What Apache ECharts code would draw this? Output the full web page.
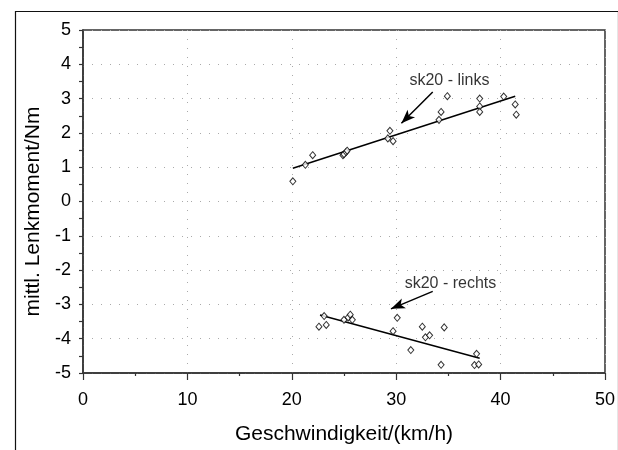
<!DOCTYPE html>
<html><head><meta charset="utf-8">
<script src="https://cdn.jsdelivr.net/npm/echarts@6/dist/echarts.min.js"></script>
<style>html,body{margin:0;padding:0;background:#fff}#c{width:618px;height:450px}</style>
</head><body><div id="c"></div>
<script>
// upper cluster: sk20 - links
const linksX = [20.1, 21.3, 22.0, 24.9, 25.0, 25.2, 25.3, 29.2, 29.4, 29.7, 34.1, 34.3, 34.9, 38.0, 38.0, 38.0, 40.3, 41.4, 41.5];
const linksY = [0.59, 1.07, 1.35, 1.35, 1.38, 1.44, 1.48, 1.84, 2.06, 1.76, 2.38, 2.61, 3.07, 3.00, 2.77, 2.61, 3.06, 2.83, 2.53];
// lower cluster: sk20 - rechts
const rechtsX = [22.6, 23.1, 23.3, 25.0, 25.4, 25.6, 25.8, 29.7, 30.1, 31.4, 32.5, 32.8, 33.2, 34.3, 34.6, 37.5, 37.7, 37.9];
const rechtsY = [-3.65, -3.34, -3.60, -3.45, -3.38, -3.30, -3.45, -3.78, -3.39, -4.33, -3.65, -3.96, -3.90, -4.76, -3.67, -4.77, -4.44, -4.75];
// trend line end points
const linksTrendX = [20.1, 41.4];
const linksTrendY = [0.97, 3.07];
const rechtsTrendX = [22.7, 38.0];
const rechtsTrendY = [-3.31, -4.57];
// annotations
const annoText = ['sk20 - links', 'sk20 - rechts'];
const annoTextPos = [[35.1, 3.52], [35.2, -2.38]];
const annoArrowFrom = [[33.5, 3.19], [33.5, -2.62]];
const annoArrowTo = [[30.5, 2.28], [29.5, -3.13]];
const xTicks = [0, 10, 20, 30, 40, 50];
const yTicks = [-5, -4, -3, -2, -1, 0, 1, 2, 3, 4, 5];

const FONT = 'Liberation Sans, Arial, sans-serif';
const zip = (a, b) => a.map((v, i) => [v, b[i]]);
const diamond = {
  type: 'scatter', symbol: 'diamond', symbolSize: [6, 7],
  itemStyle: { color: '#fff', borderColor: '#000', borderWidth: 1 }, z: 3
};
const trend = {
  type: 'line', showSymbol: false, symbol: 'none',
  lineStyle: { color: '#000', width: 1.5 }, z: 2
};

const chart = echarts.init(document.getElementById('c'), null, { renderer: 'canvas' });
chart.setOption({
  animation: false,
  backgroundColor: '#fff',
  grid: { left: 83, right: 10, top: 30, bottom: 72, show: true, borderColor: '#333', borderWidth: 1.5, backgroundColor: 'transparent' },
  xAxis: {
    type: 'value', min: xTicks[0], max: xTicks[xTicks.length - 1], interval: 10,
    name: 'Geschwindigkeit/(km/h)', nameLocation: 'middle', nameGap: 51,
    nameTextStyle: { fontFamily: FONT, fontSize: 21, color: '#000' },
    axisLine: { show: true, onZero: false, lineStyle: { color: '#333', width: 1.5 } },
    axisTick: { show: true, inside: false, length: 7, lineStyle: { color: '#333', width: 1.2 } },
    minorTick: { show: true, splitNumber: 2, length: 3, lineStyle: { color: '#333', width: 1.2 } },
    axisLabel: { fontFamily: FONT, fontSize: 18, color: '#000', margin: 18 },
    splitLine: { show: true, lineStyle: { color: '#aaa', type: [1, 8], width: 1 } }
  },
  yAxis: {
    type: 'value', min: yTicks[0], max: yTicks[yTicks.length - 1], interval: 1,
    name: 'mittl. Lenkmoment/Nm', nameLocation: 'middle', nameGap: 33,
    nameTextStyle: { fontFamily: FONT, fontSize: 21, color: '#000', padding: [0, 20, 0, 0] },
    axisLine: { show: true, onZero: false, lineStyle: { color: '#333', width: 1.5 } },
    axisTick: { show: true, inside: false, length: 4, lineStyle: { color: '#333', width: 1.2 } },
    minorTick: { show: true, splitNumber: 2, length: 4, lineStyle: { color: '#333', width: 1.2 } },
    axisLabel: { fontFamily: FONT, fontSize: 18, color: '#000', margin: 12 },
    splitLine: { show: true, lineStyle: { color: '#aaa', type: [1, 8], width: 1 } }
  },
  graphic: [{
    type: 'rect', left: 13, top: 9, silent: true,
    shape: { width: 603, height: 460 },
    style: { fill: 'none', stroke: '#111', lineWidth: 1.2 }
  }],
  series: [
    Object.assign({}, diamond, { name: 'links', data: zip(linksX, linksY) }),
    Object.assign({}, diamond, { name: 'rechts', data: zip(rechtsX, rechtsY) }),
    Object.assign({}, trend, { data: zip(linksTrendX, linksTrendY) }),
    Object.assign({}, trend, { data: zip(rechtsTrendX, rechtsTrendY) }),
    {
      type: 'scatter', symbolSize: 0, z: 4,
      data: annoText.map((t, i) => ({ value: annoTextPos[i], name: t })),
      label: { show: true, position: 'inside', formatter: p => p.name, fontFamily: FONT, fontSize: 16, color: '#000' },
      markLine: {
        silent: true, symbol: ['none', 'arrow'], symbolSize: [8, 14],
        lineStyle: { color: '#000', width: 1.5, type: 'solid' },
        itemStyle: { color: '#000' },
        label: { show: false },
        data: annoArrowFrom.map((f, i) => [{ coord: f }, { coord: annoArrowTo[i] }])
      }
    }
  ]
});
</script></body></html>
